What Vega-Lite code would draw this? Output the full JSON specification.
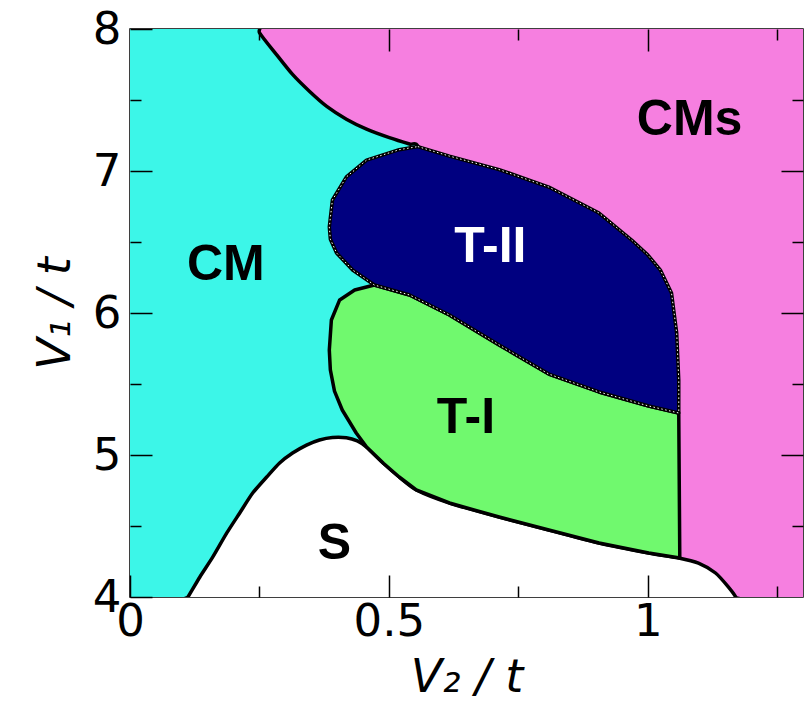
{
  "$schema": "https://vega.github.io/schema/vega-lite/v6.json",
  "width": 673,
  "height": 568,
  "autosize": {"type": "none"},
  "padding": {"left": 130, "top": 29, "right": 2, "bottom": 112},
  "background": "white",
  "config": {"view": {"stroke": "black", "strokeWidth": 1.5}},
  "datasets": {
    "d": [
      {"region": "bg", "i": 0, "x": -0.1, "y": 3.9},
      {"region": "bg", "i": 1, "x": 1.4, "y": 3.9},
      {"region": "bg", "i": 2, "x": 1.4, "y": 8.1},
      {"region": "bg", "i": 3, "x": -0.1, "y": 8.1},

      {"region": "CM", "i": 0, "x": -0.1, "y": 3.9},
      {"region": "CM", "i": 1, "x": -0.1, "y": 8.1},
      {"region": "CM", "i": 2, "x": 0.236, "y": 8.1},
      {"region": "CM", "i": 3, "x": 0.25, "y": 7.975},
      {"region": "CM", "i": 4, "x": 0.283, "y": 7.82},
      {"region": "CM", "i": 5, "x": 0.314, "y": 7.68},
      {"region": "CM", "i": 6, "x": 0.347, "y": 7.56},
      {"region": "CM", "i": 7, "x": 0.38, "y": 7.455},
      {"region": "CM", "i": 8, "x": 0.418, "y": 7.365},
      {"region": "CM", "i": 9, "x": 0.457, "y": 7.295},
      {"region": "CM", "i": 10, "x": 0.501, "y": 7.235},
      {"region": "CM", "i": 11, "x": 0.54, "y": 7.19},
      {"region": "CM", "i": 12, "x": 0.556, "y": 7.175},
      {"region": "CM", "i": 13, "x": 0.58, "y": 6.9},
      {"region": "CM", "i": 14, "x": 0.6, "y": 6.5},
      {"region": "CM", "i": 15, "x": 0.6, "y": 3.9},

      {"region": "S", "i": 0, "x": 0.095, "y": 3.9},
      {"region": "S", "i": 1, "x": 0.112, "y": 4.0},
      {"region": "S", "i": 2, "x": 0.135, "y": 4.141},
      {"region": "S", "i": 3, "x": 0.16, "y": 4.282},
      {"region": "S", "i": 4, "x": 0.187, "y": 4.451},
      {"region": "S", "i": 5, "x": 0.212, "y": 4.592},
      {"region": "S", "i": 6, "x": 0.237, "y": 4.732},
      {"region": "S", "i": 7, "x": 0.264, "y": 4.845},
      {"region": "S", "i": 8, "x": 0.289, "y": 4.944},
      {"region": "S", "i": 9, "x": 0.314, "y": 5.014},
      {"region": "S", "i": 10, "x": 0.341, "y": 5.07},
      {"region": "S", "i": 11, "x": 0.366, "y": 5.106},
      {"region": "S", "i": 12, "x": 0.391, "y": 5.124},
      {"region": "S", "i": 13, "x": 0.418, "y": 5.122},
      {"region": "S", "i": 14, "x": 0.439, "y": 5.099},
      {"region": "S", "i": 15, "x": 0.457, "y": 5.056},
      {"region": "S", "i": 16, "x": 0.49, "y": 4.94},
      {"region": "S", "i": 17, "x": 0.52, "y": 4.845},
      {"region": "S", "i": 18, "x": 0.553, "y": 4.754},
      {"region": "S", "i": 19, "x": 0.617, "y": 4.662},
      {"region": "S", "i": 20, "x": 0.713, "y": 4.563},
      {"region": "S", "i": 21, "x": 0.809, "y": 4.472},
      {"region": "S", "i": 22, "x": 0.906, "y": 4.38},
      {"region": "S", "i": 23, "x": 1.002, "y": 4.31},
      {"region": "S", "i": 24, "x": 1.06, "y": 4.275},
      {"region": "S", "i": 25, "x": 1.098, "y": 4.239},
      {"region": "S", "i": 26, "x": 1.131, "y": 4.169},
      {"region": "S", "i": 27, "x": 1.156, "y": 4.07},
      {"region": "S", "i": 28, "x": 1.17, "y": 4.0},
      {"region": "S", "i": 29, "x": 1.18, "y": 3.9},

      {"region": "TI", "i": 0, "x": 0.472, "y": 6.197},
      {"region": "TI", "i": 1, "x": 0.54, "y": 6.127},
      {"region": "TI", "i": 2, "x": 0.617, "y": 5.986},
      {"region": "TI", "i": 3, "x": 0.713, "y": 5.775},
      {"region": "TI", "i": 4, "x": 0.809, "y": 5.57},
      {"region": "TI", "i": 5, "x": 0.906, "y": 5.444},
      {"region": "TI", "i": 6, "x": 1.002, "y": 5.345},
      {"region": "TI", "i": 7, "x": 1.06, "y": 5.296},
      {"region": "TI", "i": 8, "x": 1.062, "y": 4.275},
      {"region": "TI", "i": 9, "x": 1.002, "y": 4.31},
      {"region": "TI", "i": 10, "x": 0.906, "y": 4.38},
      {"region": "TI", "i": 11, "x": 0.809, "y": 4.472},
      {"region": "TI", "i": 12, "x": 0.713, "y": 4.563},
      {"region": "TI", "i": 13, "x": 0.617, "y": 4.662},
      {"region": "TI", "i": 14, "x": 0.553, "y": 4.754},
      {"region": "TI", "i": 15, "x": 0.52, "y": 4.845},
      {"region": "TI", "i": 16, "x": 0.49, "y": 4.94},
      {"region": "TI", "i": 17, "x": 0.457, "y": 5.056},
      {"region": "TI", "i": 18, "x": 0.437, "y": 5.155},
      {"region": "TI", "i": 19, "x": 0.41, "y": 5.317},
      {"region": "TI", "i": 20, "x": 0.395, "y": 5.45},
      {"region": "TI", "i": 21, "x": 0.387, "y": 5.6},
      {"region": "TI", "i": 22, "x": 0.385, "y": 5.739},
      {"region": "TI", "i": 23, "x": 0.389, "y": 5.951},
      {"region": "TI", "i": 24, "x": 0.405, "y": 6.092},
      {"region": "TI", "i": 25, "x": 0.434, "y": 6.162},

      {"region": "TII", "i": 0, "x": 0.556, "y": 7.172},
      {"region": "TII", "i": 1, "x": 0.617, "y": 7.105},
      {"region": "TII", "i": 2, "x": 0.713, "y": 7.01},
      {"region": "TII", "i": 3, "x": 0.809, "y": 6.887},
      {"region": "TII", "i": 4, "x": 0.906, "y": 6.704},
      {"region": "TII", "i": 5, "x": 0.969, "y": 6.514},
      {"region": "TII", "i": 6, "x": 1.0, "y": 6.41},
      {"region": "TII", "i": 7, "x": 1.025, "y": 6.3},
      {"region": "TII", "i": 8, "x": 1.046, "y": 6.141},
      {"region": "TII", "i": 9, "x": 1.056, "y": 5.859},
      {"region": "TII", "i": 10, "x": 1.06, "y": 5.528},
      {"region": "TII", "i": 11, "x": 1.06, "y": 5.296},
      {"region": "TII", "i": 12, "x": 1.002, "y": 5.345},
      {"region": "TII", "i": 13, "x": 0.906, "y": 5.444},
      {"region": "TII", "i": 14, "x": 0.809, "y": 5.57},
      {"region": "TII", "i": 15, "x": 0.713, "y": 5.775},
      {"region": "TII", "i": 16, "x": 0.617, "y": 5.986},
      {"region": "TII", "i": 17, "x": 0.54, "y": 6.127},
      {"region": "TII", "i": 18, "x": 0.472, "y": 6.197},
      {"region": "TII", "i": 19, "x": 0.43, "y": 6.303},
      {"region": "TII", "i": 20, "x": 0.399, "y": 6.423},
      {"region": "TII", "i": 21, "x": 0.387, "y": 6.52},
      {"region": "TII", "i": 22, "x": 0.385, "y": 6.606},
      {"region": "TII", "i": 23, "x": 0.391, "y": 6.796},
      {"region": "TII", "i": 24, "x": 0.418, "y": 6.958},
      {"region": "TII", "i": 25, "x": 0.457, "y": 7.077},
      {"region": "TII", "i": 26, "x": 0.52, "y": 7.15},

      {"region": "label", "i": 0, "x": 0.185, "y": 6.232, "label": "CM"},
      {"region": "label", "i": 1, "x": 1.081, "y": 7.254, "label": "CMs"},
      {"region": "label", "i": 2, "x": 0.696, "y": 6.359, "label": "T-II"},
      {"region": "label", "i": 3, "x": 0.649, "y": 5.155, "label": "T-I"},
      {"region": "label", "i": 4, "x": 0.395, "y": 4.268, "label": "S"}
    ]
  },
  "data": {"name": "d"},
  "layer": [
    {
      "encoding": {
        "x": {
          "field": "x", "type": "quantitative",
          "scale": {"domain": [0, 1.3], "nice": false, "zero": false},
          "axis": {
            "orient": "bottom", "zindex": 1,
            "values": [0, 0.25, 0.5, 0.75, 1, 1.25],
            "labelExpr": "datum.value % 0.5 == 0 ? '' + datum.value : ''",
            "tickSize": {"condition": {"test": "datum.value % 0.5 == 0", "value": -22}, "value": -11},
            "tickColor": "black", "tickWidth": 1.5,
            "domain": false, "grid": false,
            "labelFont": "DejaVu Sans", "labelFontSize": 45, "labelColor": "black",
            "labelPadding": 24, "labelFlush": false, "labelOverlap": false,
            "title": "V₂ / t", "titleFont": "DejaVu Sans", "titleFontSize": 46,
            "titleFontStyle": "italic", "titleFontWeight": "normal", "titleColor": "black",
            "titlePadding": 0
          }
        },
        "y": {
          "field": "y", "type": "quantitative",
          "scale": {"domain": [4, 8], "nice": false, "zero": false},
          "axis": {
            "orient": "left", "zindex": 1,
            "values": [4, 4.5, 5, 5.5, 6, 6.5, 7, 7.5, 8],
            "labelExpr": "datum.value % 1 == 0 ? '' + datum.value : ''",
            "tickSize": {"condition": {"test": "datum.value % 1 == 0", "value": -22}, "value": -11},
            "tickColor": "black", "tickWidth": 1.5,
            "domain": false, "grid": false,
            "labelFont": "DejaVu Sans", "labelFontSize": 45, "labelColor": "black",
            "labelPadding": 31, "labelFlush": false, "labelOverlap": false,
            "title": "V₁ / t", "titleFont": "DejaVu Sans", "titleFontSize": 46,
            "titleFontStyle": "italic", "titleFontWeight": "normal", "titleColor": "black",
            "titlePadding": 13
          }
        }
      },
      "layer": [
        {
          "transform": [{"filter": "datum.region == 'bg'"}],
          "mark": {"type": "line", "interpolate": "linear-closed", "fill": "#f67fe0", "stroke": "#f67fe0", "strokeWidth": 0, "clip": true},
          "encoding": {"order": {"field": "i", "type": "quantitative"}}
        },
        {
          "transform": [{"filter": "datum.region == 'CM'"}],
          "mark": {"type": "line", "interpolate": "cardinal-closed", "tension": 0.3, "fill": "#3cf6e8", "stroke": "black", "strokeWidth": 3.5, "strokeJoin": "round", "clip": true},
          "encoding": {"order": {"field": "i", "type": "quantitative"}}
        },
        {
          "transform": [{"filter": "datum.region == 'S'"}],
          "mark": {"type": "line", "interpolate": "cardinal-closed", "tension": 0.3, "fill": "white", "stroke": "black", "strokeWidth": 3.5, "strokeJoin": "round", "clip": true},
          "encoding": {"order": {"field": "i", "type": "quantitative"}}
        },
        {
          "transform": [{"filter": "datum.region == 'TI'"}],
          "mark": {"type": "line", "interpolate": "linear-closed", "fill": "#70f96e", "stroke": "black", "strokeWidth": 3.5, "strokeJoin": "round", "clip": true},
          "encoding": {"order": {"field": "i", "type": "quantitative"}}
        },
        {
          "transform": [{"filter": "datum.region == 'TII'"}],
          "mark": {"type": "line", "interpolate": "linear-closed", "fill": "#000080", "stroke": "black", "strokeWidth": 3.5, "strokeJoin": "round", "clip": true},
          "encoding": {"order": {"field": "i", "type": "quantitative"}}
        },
        {
          "transform": [{"filter": "datum.region == 'TII'"}],
          "mark": {"type": "line", "interpolate": "linear-closed", "stroke": "white", "strokeWidth": 1, "strokeDash": [1.5, 2.5], "clip": true},
          "encoding": {"order": {"field": "i", "type": "quantitative"}}
        },
        {
          "transform": [{"filter": "datum.region == 'label'"}],
          "mark": {"type": "text", "font": "Liberation Sans", "fontWeight": "bold", "fontSize": 50, "align": "center", "baseline": "alphabetic"},
          "encoding": {
            "text": {"field": "label", "type": "nominal"},
            "color": {"condition": {"test": "datum.label == 'T-II'", "value": "white"}, "value": "black"}
          }
        }
      ]
    },
    {
      "transform": [{"filter": "datum.region == 'bg'"}],
      "mark": {"type": "point", "opacity": 0},
      "encoding": {
        "x": {
          "field": "x", "type": "quantitative",
          "scale": {"domain": [0, 1.3], "nice": false, "zero": false},
          "axis": {
            "orient": "top", "zindex": 1,
            "values": [0.25, 0.5, 0.75, 1, 1.25],
            "labels": false,
            "tickSize": {"condition": {"test": "datum.value % 0.5 == 0", "value": -22}, "value": -11},
            "tickColor": "black", "tickWidth": 1.5,
            "domain": false, "grid": false, "title": null
          }
        },
        "y": {
          "field": "y", "type": "quantitative",
          "scale": {"domain": [4, 8], "nice": false, "zero": false},
          "axis": {
            "orient": "right", "zindex": 1,
            "values": [4.5, 5, 5.5, 6, 6.5, 7, 7.5],
            "labels": false,
            "tickSize": {"condition": {"test": "datum.value % 1 == 0", "value": -22}, "value": -11},
            "tickColor": "black", "tickWidth": 1.5,
            "domain": false, "grid": false, "title": null
          }
        }
      }
    }
  ],
  "resolve": {"axis": {"x": "independent", "y": "independent"}}
}
